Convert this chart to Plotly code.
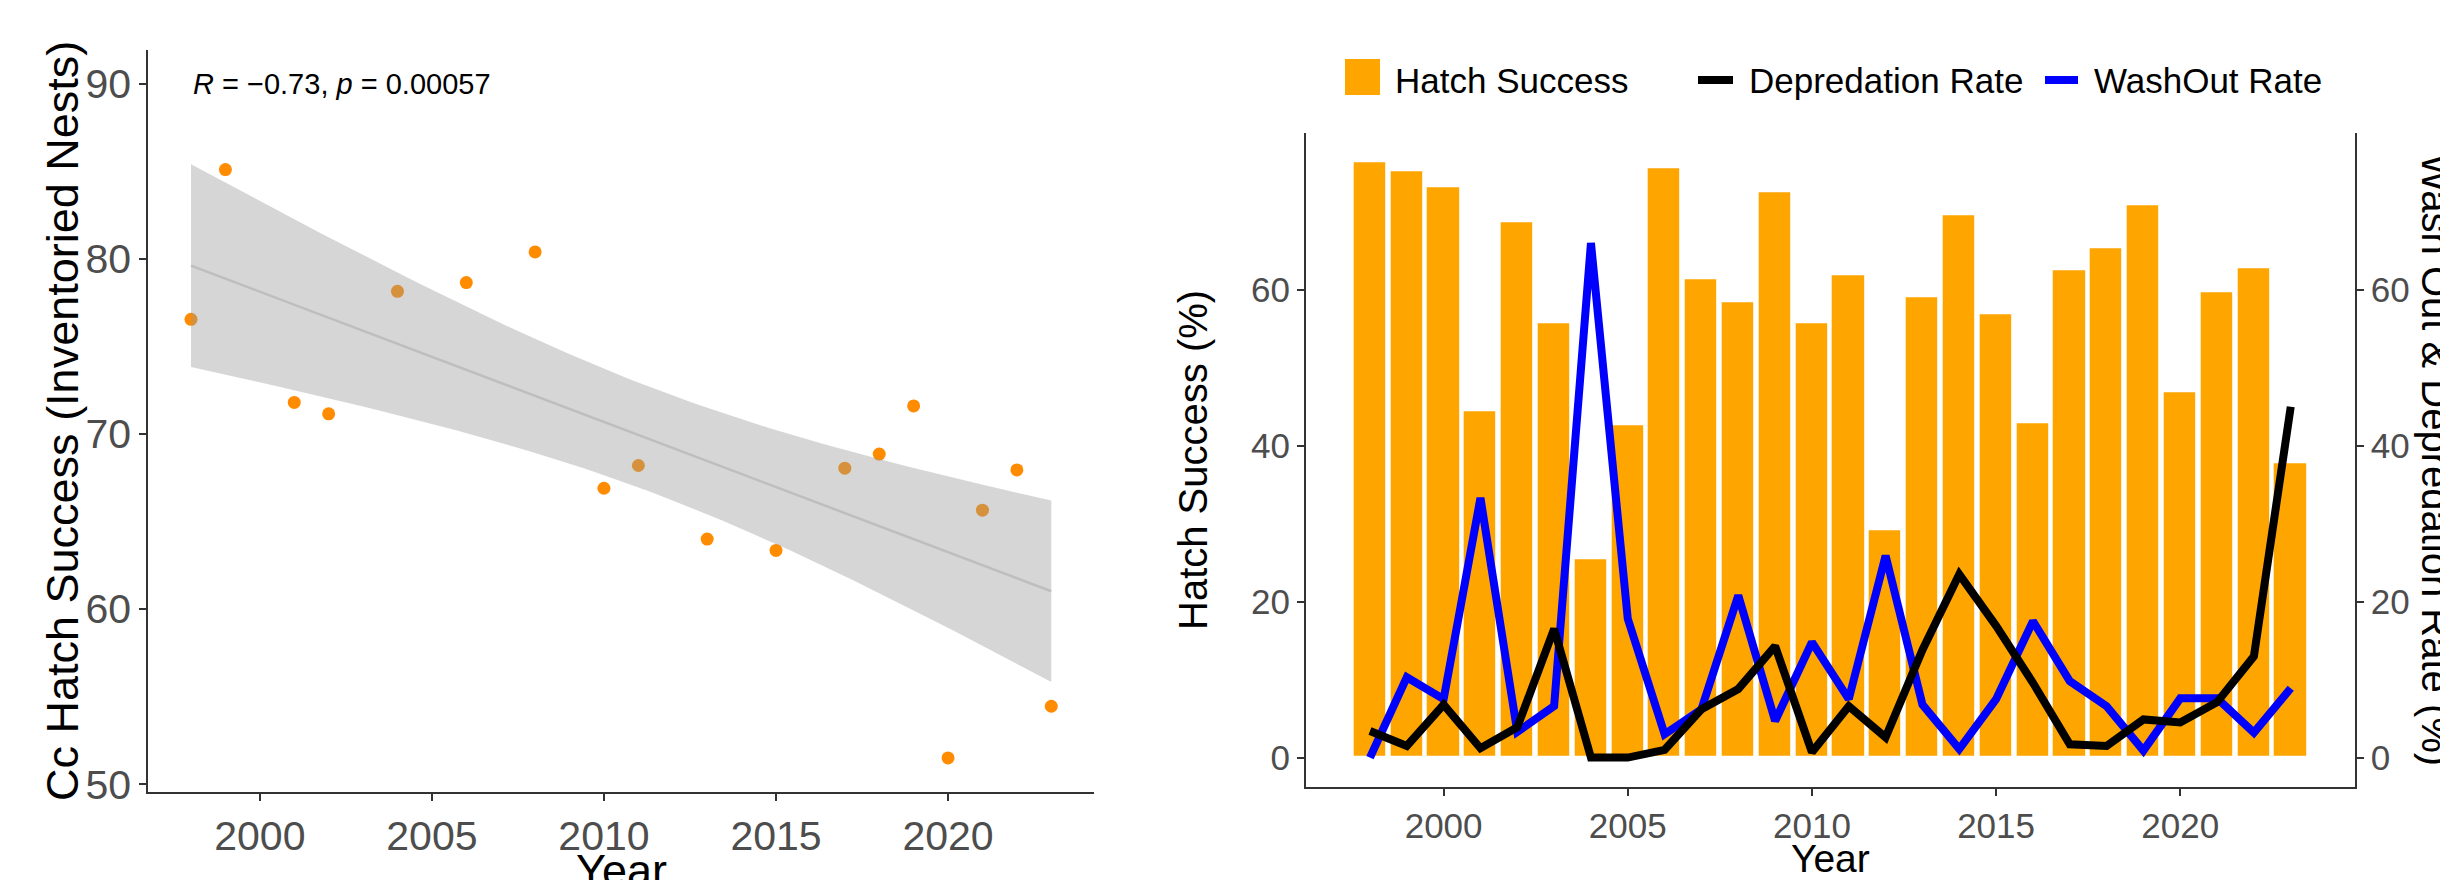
import numpy as np
import plotly.graph_objects as go

# ---- Left panel: hatch success of inventoried nests ----
scatter_years = [1998, 1999, 2001, 2002, 2004, 2006, 2008, 2010, 2011,
                 2013, 2015, 2017, 2018, 2019, 2020, 2021, 2022, 2023]
scatter_success = [76.55, 85.1, 71.8, 71.15, 78.15, 78.65, 80.4, 66.9, 68.2,
                   64.0, 63.35, 68.05, 68.85, 71.6, 51.5, 65.65, 67.95, 54.45]
cor_label = "<i>R</i> = \u22120.73, <i>p</i> = 0.00057"

# ---- Right panel: yearly hatch success, depredation and washout ----
years = list(range(1998, 2024))
hatch_success = [76.3, 75.2, 73.2, 44.4, 68.6, 55.7, 25.4, 42.6, 75.6, 61.4,
                 58.4, 72.5, 55.7, 61.9, 29.1, 59.0, 69.5, 56.8, 42.9, 62.5,
                 65.3, 70.8, 46.8, 59.7, 62.7, 37.8]
washout_rate = [0.0, 10.3, 7.5, 33.3, 3.3, 6.6, 66.0, 17.8, 3.0, 6.2,
                20.8, 4.7, 14.8, 7.5, 25.9, 6.8, 1.1, 7.5, 17.5, 9.8,
                6.6, 0.9, 7.6, 7.6, 3.2, 8.9]
depredation_rate = [3.4, 1.5, 6.8, 1.2, 3.9, 16.5, 0.0, 0.0, 1.0, 6.2,
                    8.8, 14.3, 0.7, 6.6, 2.6, 13.8, 23.5, 16.9, 9.6, 1.7,
                    1.5, 4.9, 4.5, 7.1, 13.0, 45.0]

W, H = 2440, 880
FONT = "Arial, Liberation Sans, sans-serif"
TICK_GREY = "#4D4D4D"
AXIS_COL = "#333333"


def px_x(v):
    return v / W


def px_y(v):
    return 1 - v / H


# linear model fit with 95% confidence band (lm smoother)
x = np.array(scatter_years, float)
y = np.array(scatter_success, float)
n = len(x)
slope, intercept = np.polyfit(x, y, 1)
resid = y - (intercept + slope * x)
s = np.sqrt(np.sum(resid ** 2) / (n - 2))
sxx = np.sum((x - x.mean()) ** 2)
t_crit = 2.1199  # t(0.975, df=16)
xg = np.linspace(x.min(), x.max(), 80)
yg = intercept + slope * xg
se = s * np.sqrt(1 / n + (xg - x.mean()) ** 2 / sxx)
upper = yg + t_crit * se
lower = yg - t_crit * se

fig = go.Figure()

fig.add_trace(go.Scatter(
    x=scatter_years, y=scatter_success, mode="markers",
    marker=dict(color="#FF8C00", size=13, line=dict(width=0)),
    xaxis="x", yaxis="y", showlegend=False))
fig.add_trace(go.Scatter(
    x=np.concatenate([xg, xg[::-1]]), y=np.concatenate([upper, lower[::-1]]),
    fill="toself", fillcolor="rgba(153,153,153,0.4)", mode="lines",
    line=dict(width=0), xaxis="x", yaxis="y", showlegend=False,
    hoverinfo="skip"))
fig.add_trace(go.Scatter(
    x=xg, y=yg, mode="lines", line=dict(color="#BEBEBE", width=2.5),
    xaxis="x", yaxis="y", showlegend=False))

fig.add_trace(go.Bar(
    x=years, y=hatch_success, width=0.9, name="Hatch Success",
    marker=dict(color="#FFA500", line=dict(color="white", width=1.5)),
    xaxis="x2", yaxis="y2", showlegend=False))
fig.add_trace(go.Scatter(
    x=years, y=washout_rate, mode="lines", name="WashOut Rate",
    line=dict(color="#0000FF", width=8), xaxis="x2", yaxis="y3",
    showlegend=False))
fig.add_trace(go.Scatter(
    x=years, y=depredation_rate, mode="lines", name="Depredation Rate",
    line=dict(color="#000000", width=8), xaxis="x2", yaxis="y3",
    showlegend=False))

axis_common = dict(showgrid=False, zeroline=False, showline=True,
                   linecolor=AXIS_COL, linewidth=1.6, ticks="outside",
                   ticklen=7, tickwidth=1.6, tickcolor=AXIS_COL,
                   automargin=False)

left_dom_x = [px_x(148), px_x(1094.3)]
left_dom_y = [px_y(791.7), px_y(50)]
right_dom_x = [px_x(1305.7), px_x(2355)]
right_dom_y = [px_y(787.3), px_y(133.3)]

fig.update_layout(
    width=W, height=H, margin=dict(l=0, r=0, t=0, b=0),
    paper_bgcolor="white", plot_bgcolor="white",
    font=dict(family=FONT, color="black"),
    showlegend=False,
    xaxis=dict(domain=left_dom_x, range=[1996.75, 2024.25],
               tickvals=[2000, 2005, 2010, 2015, 2020],
               tickfont=dict(size=41, color=TICK_GREY), anchor="y",
               **axis_common),
    yaxis=dict(domain=left_dom_y, range=[49.57, 91.93],
               tickvals=[50, 60, 70, 80, 90],
               tickfont=dict(size=41, color=TICK_GREY), anchor="x",
               **axis_common),
    xaxis2=dict(domain=right_dom_x, range=[1996.255, 2024.745],
                tickvals=[2000, 2005, 2010, 2015, 2020],
                tickfont=dict(size=35, color=TICK_GREY), anchor="y2",
                **axis_common),
    yaxis2=dict(domain=right_dom_y, range=[-3.81, 80.07],
                tickvals=[0, 20, 40, 60],
                tickfont=dict(size=35, color=TICK_GREY), anchor="x2",
                **axis_common),
    yaxis3=dict(range=[-3.81, 80.07], overlaying="y2", side="right",
                anchor="x2", tickvals=[0, 20, 40, 60],
                tickfont=dict(size=35, color=TICK_GREY), **axis_common),
    bargap=0,
)


def label(text, xp, yp, size, angle=0, xanchor="center"):
    return dict(text=text, x=px_x(xp), y=px_y(yp), xref="paper",
                yref="paper", xanchor=xanchor, yanchor="middle",
                textangle=angle, showarrow=False,
                font=dict(size=size, color="black"))


annotations = [
    dict(text=cor_label, x=1998, y=90, xref="x", yref="y",
         xanchor="left", yanchor="middle", showarrow=False,
         font=dict(size=29, color="black")),
    label("Cc Hatch Success (Inventoried Nests)", 62, 421, 45, angle=-90),
    label("Year", 621, 870, 45),
    label("Hatch Success (%)", 1193, 460, 40, angle=-90),
    label("Wash Out & Depredation Rate (%)", 2436, 460, 40, angle=90),
    label("Year", 1830, 858, 39),
    # legend labels
    label("Hatch Success", 1393, 80, 35, xanchor="left"),
    label("Depredation Rate", 1747, 80, 35, xanchor="left"),
    label("WashOut Rate", 2092, 80, 35, xanchor="left"),
]
fig.update_layout(annotations=annotations)

# legend keys
fig.add_shape(type="rect", xref="paper", yref="paper",
              x0=px_x(1345), x1=px_x(1380), y0=px_y(95), y1=px_y(59),
              fillcolor="#FFA500", line=dict(width=0))
fig.add_shape(type="line", xref="paper", yref="paper",
              x0=px_x(1698), x1=px_x(1733), y0=px_y(80), y1=px_y(80),
              line=dict(color="black", width=8))
fig.add_shape(type="line", xref="paper", yref="paper",
              x0=px_x(2045), x1=px_x(2078), y0=px_y(80), y1=px_y(80),
              line=dict(color="#0000FF", width=8))

fig.write_html("out.html")
